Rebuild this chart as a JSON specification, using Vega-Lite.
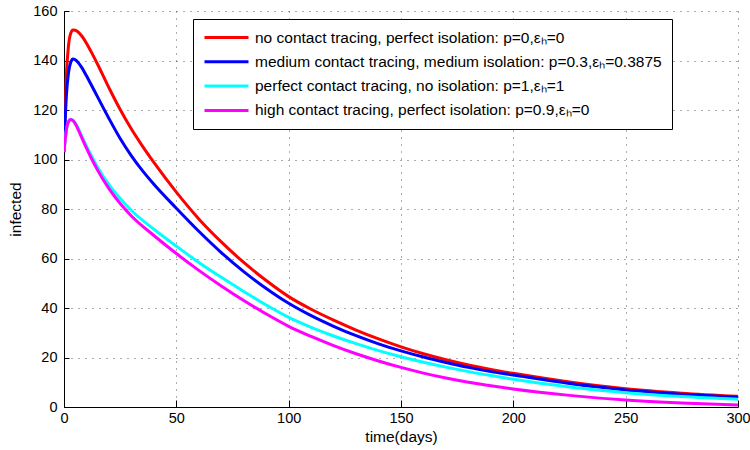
{
  "$schema": "https://vega.github.io/schema/vega-lite/v6.json",
  "width": 674,
  "height": 396,
  "autosize": {"type": "none"},
  "padding": {"left": 64, "top": 11, "right": 12, "bottom": 43},
  "background": "white",
  "config": {
    "view": {"stroke": null},
    "font": "Liberation Sans",
    "axis": {
      "domainColor": "black",
      "domainWidth": 1,
      "tickColor": "black",
      "labelColor": "black",
      "labelFont": "Liberation Sans",
      "labelFontSize": 14.5,
      "titleFont": "Liberation Sans",
      "titleFontSize": 15.5,
      "titleFontWeight": "normal",
      "titleColor": "black",
      "grid": true,
      "gridColor": "#222222",
      "gridOpacity": 0.75,
      "gridDash": [1, 6],
      "gridWidth": 1
    }
  },
  "datasets": {
    "curves": [
      {"series": "no contact tracing, perfect isolation: p=0,εₕ=0", "t": 0, "infected": 103},
      {"series": "no contact tracing, perfect isolation: p=0,εₕ=0", "t": 1, "infected": 133},
      {"series": "no contact tracing, perfect isolation: p=0,εₕ=0", "t": 2, "infected": 146},
      {"series": "no contact tracing, perfect isolation: p=0,εₕ=0", "t": 3, "infected": 151},
      {"series": "no contact tracing, perfect isolation: p=0,εₕ=0", "t": 4, "infected": 152.3},
      {"series": "no contact tracing, perfect isolation: p=0,εₕ=0", "t": 5, "infected": 152.2},
      {"series": "no contact tracing, perfect isolation: p=0,εₕ=0", "t": 6, "infected": 151.7},
      {"series": "no contact tracing, perfect isolation: p=0,εₕ=0", "t": 8, "infected": 149.8},
      {"series": "no contact tracing, perfect isolation: p=0,εₕ=0", "t": 10, "infected": 147},
      {"series": "no contact tracing, perfect isolation: p=0,εₕ=0", "t": 12, "infected": 143.7},
      {"series": "no contact tracing, perfect isolation: p=0,εₕ=0", "t": 15, "infected": 138.4},
      {"series": "no contact tracing, perfect isolation: p=0,εₕ=0", "t": 20, "infected": 129},
      {"series": "no contact tracing, perfect isolation: p=0,εₕ=0", "t": 25, "infected": 120.2},
      {"series": "no contact tracing, perfect isolation: p=0,εₕ=0", "t": 30, "infected": 112.3},
      {"series": "no contact tracing, perfect isolation: p=0,εₕ=0", "t": 35, "infected": 105.3},
      {"series": "no contact tracing, perfect isolation: p=0,εₕ=0", "t": 40, "infected": 98.8},
      {"series": "no contact tracing, perfect isolation: p=0,εₕ=0", "t": 50, "infected": 86.8},
      {"series": "no contact tracing, perfect isolation: p=0,εₕ=0", "t": 60, "infected": 76},
      {"series": "no contact tracing, perfect isolation: p=0,εₕ=0", "t": 70, "infected": 66.7},
      {"series": "no contact tracing, perfect isolation: p=0,εₕ=0", "t": 80, "infected": 58.4},
      {"series": "no contact tracing, perfect isolation: p=0,εₕ=0", "t": 90, "infected": 51.1},
      {"series": "no contact tracing, perfect isolation: p=0,εₕ=0", "t": 100, "infected": 44.6},
      {"series": "no contact tracing, perfect isolation: p=0,εₕ=0", "t": 110, "infected": 39.5},
      {"series": "no contact tracing, perfect isolation: p=0,εₕ=0", "t": 120, "infected": 35.1},
      {"series": "no contact tracing, perfect isolation: p=0,εₕ=0", "t": 130, "infected": 31.1},
      {"series": "no contact tracing, perfect isolation: p=0,εₕ=0", "t": 140, "infected": 27.5},
      {"series": "no contact tracing, perfect isolation: p=0,εₕ=0", "t": 150, "infected": 24.3},
      {"series": "no contact tracing, perfect isolation: p=0,εₕ=0", "t": 160, "infected": 21.5},
      {"series": "no contact tracing, perfect isolation: p=0,εₕ=0", "t": 170, "infected": 19.1},
      {"series": "no contact tracing, perfect isolation: p=0,εₕ=0", "t": 180, "infected": 17},
      {"series": "no contact tracing, perfect isolation: p=0,εₕ=0", "t": 190, "infected": 15.2},
      {"series": "no contact tracing, perfect isolation: p=0,εₕ=0", "t": 200, "infected": 13.6},
      {"series": "no contact tracing, perfect isolation: p=0,εₕ=0", "t": 225, "infected": 10.1},
      {"series": "no contact tracing, perfect isolation: p=0,εₕ=0", "t": 250, "infected": 7.4},
      {"series": "no contact tracing, perfect isolation: p=0,εₕ=0", "t": 275, "infected": 5.6},
      {"series": "no contact tracing, perfect isolation: p=0,εₕ=0", "t": 300, "infected": 4.3},

      {"series": "medium contact tracing, medium isolation: p=0.3,εₕ=0.3875", "t": 0, "infected": 103},
      {"series": "medium contact tracing, medium isolation: p=0.3,εₕ=0.3875", "t": 1, "infected": 125},
      {"series": "medium contact tracing, medium isolation: p=0.3,εₕ=0.3875", "t": 2, "infected": 135},
      {"series": "medium contact tracing, medium isolation: p=0.3,εₕ=0.3875", "t": 3, "infected": 139.3},
      {"series": "medium contact tracing, medium isolation: p=0.3,εₕ=0.3875", "t": 4, "infected": 140.6},
      {"series": "medium contact tracing, medium isolation: p=0.3,εₕ=0.3875", "t": 5, "infected": 140.3},
      {"series": "medium contact tracing, medium isolation: p=0.3,εₕ=0.3875", "t": 6, "infected": 139.5},
      {"series": "medium contact tracing, medium isolation: p=0.3,εₕ=0.3875", "t": 8, "infected": 137},
      {"series": "medium contact tracing, medium isolation: p=0.3,εₕ=0.3875", "t": 10, "infected": 133.8},
      {"series": "medium contact tracing, medium isolation: p=0.3,εₕ=0.3875", "t": 12, "infected": 130.4},
      {"series": "medium contact tracing, medium isolation: p=0.3,εₕ=0.3875", "t": 15, "infected": 125.2},
      {"series": "medium contact tracing, medium isolation: p=0.3,εₕ=0.3875", "t": 20, "infected": 116.6},
      {"series": "medium contact tracing, medium isolation: p=0.3,εₕ=0.3875", "t": 25, "infected": 108.5},
      {"series": "medium contact tracing, medium isolation: p=0.3,εₕ=0.3875", "t": 30, "infected": 101.5},
      {"series": "medium contact tracing, medium isolation: p=0.3,εₕ=0.3875", "t": 35, "infected": 95.4},
      {"series": "medium contact tracing, medium isolation: p=0.3,εₕ=0.3875", "t": 40, "infected": 90},
      {"series": "medium contact tracing, medium isolation: p=0.3,εₕ=0.3875", "t": 50, "infected": 80.3},
      {"series": "medium contact tracing, medium isolation: p=0.3,εₕ=0.3875", "t": 60, "infected": 71},
      {"series": "medium contact tracing, medium isolation: p=0.3,εₕ=0.3875", "t": 70, "infected": 62.4},
      {"series": "medium contact tracing, medium isolation: p=0.3,εₕ=0.3875", "t": 80, "infected": 54.7},
      {"series": "medium contact tracing, medium isolation: p=0.3,εₕ=0.3875", "t": 90, "infected": 47.9},
      {"series": "medium contact tracing, medium isolation: p=0.3,εₕ=0.3875", "t": 100, "infected": 41.9},
      {"series": "medium contact tracing, medium isolation: p=0.3,εₕ=0.3875", "t": 110, "infected": 36.9},
      {"series": "medium contact tracing, medium isolation: p=0.3,εₕ=0.3875", "t": 120, "infected": 32.6},
      {"series": "medium contact tracing, medium isolation: p=0.3,εₕ=0.3875", "t": 130, "infected": 28.8},
      {"series": "medium contact tracing, medium isolation: p=0.3,εₕ=0.3875", "t": 140, "infected": 25.5},
      {"series": "medium contact tracing, medium isolation: p=0.3,εₕ=0.3875", "t": 150, "infected": 22.7},
      {"series": "medium contact tracing, medium isolation: p=0.3,εₕ=0.3875", "t": 160, "infected": 20.2},
      {"series": "medium contact tracing, medium isolation: p=0.3,εₕ=0.3875", "t": 170, "infected": 18},
      {"series": "medium contact tracing, medium isolation: p=0.3,εₕ=0.3875", "t": 180, "infected": 16},
      {"series": "medium contact tracing, medium isolation: p=0.3,εₕ=0.3875", "t": 190, "infected": 14.3},
      {"series": "medium contact tracing, medium isolation: p=0.3,εₕ=0.3875", "t": 200, "infected": 12.9},
      {"series": "medium contact tracing, medium isolation: p=0.3,εₕ=0.3875", "t": 225, "infected": 9.5},
      {"series": "medium contact tracing, medium isolation: p=0.3,εₕ=0.3875", "t": 250, "infected": 6.9},
      {"series": "medium contact tracing, medium isolation: p=0.3,εₕ=0.3875", "t": 275, "infected": 5.2},
      {"series": "medium contact tracing, medium isolation: p=0.3,εₕ=0.3875", "t": 300, "infected": 3.9},

      {"series": "perfect contact tracing, no isolation: p=1,εₕ=1", "t": 0, "infected": 103},
      {"series": "perfect contact tracing, no isolation: p=1,εₕ=1", "t": 1, "infected": 111.5},
      {"series": "perfect contact tracing, no isolation: p=1,εₕ=1", "t": 2, "infected": 115.3},
      {"series": "perfect contact tracing, no isolation: p=1,εₕ=1", "t": 3, "infected": 116.3},
      {"series": "perfect contact tracing, no isolation: p=1,εₕ=1", "t": 4, "infected": 115.8},
      {"series": "perfect contact tracing, no isolation: p=1,εₕ=1", "t": 5, "infected": 114.7},
      {"series": "perfect contact tracing, no isolation: p=1,εₕ=1", "t": 6, "infected": 113.2},
      {"series": "perfect contact tracing, no isolation: p=1,εₕ=1", "t": 8, "infected": 109.2},
      {"series": "perfect contact tracing, no isolation: p=1,εₕ=1", "t": 10, "infected": 105.4},
      {"series": "perfect contact tracing, no isolation: p=1,εₕ=1", "t": 12, "infected": 101.8},
      {"series": "perfect contact tracing, no isolation: p=1,εₕ=1", "t": 15, "infected": 96.8},
      {"series": "perfect contact tracing, no isolation: p=1,εₕ=1", "t": 20, "infected": 89.8},
      {"series": "perfect contact tracing, no isolation: p=1,εₕ=1", "t": 25, "infected": 84.2},
      {"series": "perfect contact tracing, no isolation: p=1,εₕ=1", "t": 30, "infected": 79.4},
      {"series": "perfect contact tracing, no isolation: p=1,εₕ=1", "t": 40, "infected": 71.8},
      {"series": "perfect contact tracing, no isolation: p=1,εₕ=1", "t": 50, "infected": 65},
      {"series": "perfect contact tracing, no isolation: p=1,εₕ=1", "t": 60, "infected": 58.4},
      {"series": "perfect contact tracing, no isolation: p=1,εₕ=1", "t": 70, "infected": 52.4},
      {"series": "perfect contact tracing, no isolation: p=1,εₕ=1", "t": 80, "infected": 46.7},
      {"series": "perfect contact tracing, no isolation: p=1,εₕ=1", "t": 90, "infected": 41.2},
      {"series": "perfect contact tracing, no isolation: p=1,εₕ=1", "t": 100, "infected": 36.2},
      {"series": "perfect contact tracing, no isolation: p=1,εₕ=1", "t": 110, "infected": 32.2},
      {"series": "perfect contact tracing, no isolation: p=1,εₕ=1", "t": 120, "infected": 28.7},
      {"series": "perfect contact tracing, no isolation: p=1,εₕ=1", "t": 130, "infected": 25.6},
      {"series": "perfect contact tracing, no isolation: p=1,εₕ=1", "t": 140, "infected": 22.8},
      {"series": "perfect contact tracing, no isolation: p=1,εₕ=1", "t": 150, "infected": 20.3},
      {"series": "perfect contact tracing, no isolation: p=1,εₕ=1", "t": 160, "infected": 18.1},
      {"series": "perfect contact tracing, no isolation: p=1,εₕ=1", "t": 170, "infected": 16.1},
      {"series": "perfect contact tracing, no isolation: p=1,εₕ=1", "t": 180, "infected": 14.3},
      {"series": "perfect contact tracing, no isolation: p=1,εₕ=1", "t": 190, "infected": 12.7},
      {"series": "perfect contact tracing, no isolation: p=1,εₕ=1", "t": 200, "infected": 11.2},
      {"series": "perfect contact tracing, no isolation: p=1,εₕ=1", "t": 225, "infected": 8.1},
      {"series": "perfect contact tracing, no isolation: p=1,εₕ=1", "t": 250, "infected": 5.8},
      {"series": "perfect contact tracing, no isolation: p=1,εₕ=1", "t": 275, "infected": 4.2},
      {"series": "perfect contact tracing, no isolation: p=1,εₕ=1", "t": 300, "infected": 3.1},

      {"series": "high contact tracing, perfect isolation: p=0.9,εₕ=0", "t": 0, "infected": 103},
      {"series": "high contact tracing, perfect isolation: p=0.9,εₕ=0", "t": 1, "infected": 111.5},
      {"series": "high contact tracing, perfect isolation: p=0.9,εₕ=0", "t": 2, "infected": 115.3},
      {"series": "high contact tracing, perfect isolation: p=0.9,εₕ=0", "t": 3, "infected": 116.2},
      {"series": "high contact tracing, perfect isolation: p=0.9,εₕ=0", "t": 4, "infected": 115.7},
      {"series": "high contact tracing, perfect isolation: p=0.9,εₕ=0", "t": 5, "infected": 114.5},
      {"series": "high contact tracing, perfect isolation: p=0.9,εₕ=0", "t": 6, "infected": 112.7},
      {"series": "high contact tracing, perfect isolation: p=0.9,εₕ=0", "t": 8, "infected": 108.6},
      {"series": "high contact tracing, perfect isolation: p=0.9,εₕ=0", "t": 10, "infected": 104.6},
      {"series": "high contact tracing, perfect isolation: p=0.9,εₕ=0", "t": 12, "infected": 100.8},
      {"series": "high contact tracing, perfect isolation: p=0.9,εₕ=0", "t": 15, "infected": 95.6},
      {"series": "high contact tracing, perfect isolation: p=0.9,εₕ=0", "t": 20, "infected": 88.2},
      {"series": "high contact tracing, perfect isolation: p=0.9,εₕ=0", "t": 25, "infected": 82.2},
      {"series": "high contact tracing, perfect isolation: p=0.9,εₕ=0", "t": 30, "infected": 77.2},
      {"series": "high contact tracing, perfect isolation: p=0.9,εₕ=0", "t": 40, "infected": 69.3},
      {"series": "high contact tracing, perfect isolation: p=0.9,εₕ=0", "t": 50, "infected": 62},
      {"series": "high contact tracing, perfect isolation: p=0.9,εₕ=0", "t": 60, "infected": 55.2},
      {"series": "high contact tracing, perfect isolation: p=0.9,εₕ=0", "t": 70, "infected": 48.9},
      {"series": "high contact tracing, perfect isolation: p=0.9,εₕ=0", "t": 80, "infected": 43},
      {"series": "high contact tracing, perfect isolation: p=0.9,εₕ=0", "t": 90, "infected": 37.6},
      {"series": "high contact tracing, perfect isolation: p=0.9,εₕ=0", "t": 100, "infected": 32.6},
      {"series": "high contact tracing, perfect isolation: p=0.9,εₕ=0", "t": 110, "infected": 28.5},
      {"series": "high contact tracing, perfect isolation: p=0.9,εₕ=0", "t": 120, "infected": 24.8},
      {"series": "high contact tracing, perfect isolation: p=0.9,εₕ=0", "t": 130, "infected": 21.5},
      {"series": "high contact tracing, perfect isolation: p=0.9,εₕ=0", "t": 140, "infected": 18.6},
      {"series": "high contact tracing, perfect isolation: p=0.9,εₕ=0", "t": 150, "infected": 16},
      {"series": "high contact tracing, perfect isolation: p=0.9,εₕ=0", "t": 160, "infected": 13.7},
      {"series": "high contact tracing, perfect isolation: p=0.9,εₕ=0", "t": 170, "infected": 11.7},
      {"series": "high contact tracing, perfect isolation: p=0.9,εₕ=0", "t": 180, "infected": 10},
      {"series": "high contact tracing, perfect isolation: p=0.9,εₕ=0", "t": 190, "infected": 8.6},
      {"series": "high contact tracing, perfect isolation: p=0.9,εₕ=0", "t": 200, "infected": 7.3},
      {"series": "high contact tracing, perfect isolation: p=0.9,εₕ=0", "t": 225, "infected": 4.7},
      {"series": "high contact tracing, perfect isolation: p=0.9,εₕ=0", "t": 250, "infected": 2.8},
      {"series": "high contact tracing, perfect isolation: p=0.9,εₕ=0", "t": 275, "infected": 1.6},
      {"series": "high contact tracing, perfect isolation: p=0.9,εₕ=0", "t": 300, "infected": 0.8}
    ]
  },
  "data": {"name": "curves"},
  "mark": {"type": "line", "strokeWidth": 3, "interpolate": "monotone", "clip": true},
  "encoding": {
    "x": {
      "field": "t",
      "type": "quantitative",
      "title": "time(days)",
      "scale": {"domain": [0, 300], "nice": false, "zero": false},
      "axis": {
        "values": [0, 50, 100, 150, 200, 250, 300],
        "tickSize": -7,
        "labelPadding": 11,
        "titlePadding": 5,
        "labelFlush": false
      }
    },
    "y": {
      "field": "infected",
      "type": "quantitative",
      "title": "infected",
      "scale": {"domain": [0, 160], "nice": false},
      "axis": {
        "values": [0, 20, 40, 60, 80, 100, 120, 140, 160],
        "tickSize": -5,
        "labelPadding": 12,
        "titlePadding": 9
      }
    },
    "color": {
      "field": "series",
      "type": "nominal",
      "sort": null,
      "scale": {
        "domain": [
          "no contact tracing, perfect isolation: p=0,εₕ=0",
          "medium contact tracing, medium isolation: p=0.3,εₕ=0.3875",
          "perfect contact tracing, no isolation: p=1,εₕ=1",
          "high contact tracing, perfect isolation: p=0.9,εₕ=0"
        ],
        "range": ["#ff0000", "#0000ff", "#00ffff", "#ff00ff"]
      },
      "legend": {
        "title": null,
        "orient": "none",
        "legendX": 129,
        "legendY": 8,
        "symbolType": "stroke",
        "symbolSize": 1936,
        "symbolStrokeWidth": 3,
        "clipHeight": 17,
        "labelFont": "Liberation Sans",
        "labelFontSize": 15.5,
        "labelColor": "black",
        "labelLimit": 600,
        "labelOffset": 5,
        "rowPadding": 7.3,
        "padding": 10,
        "strokeColor": "black",
        "fillColor": "white"
      }
    }
  }
}
